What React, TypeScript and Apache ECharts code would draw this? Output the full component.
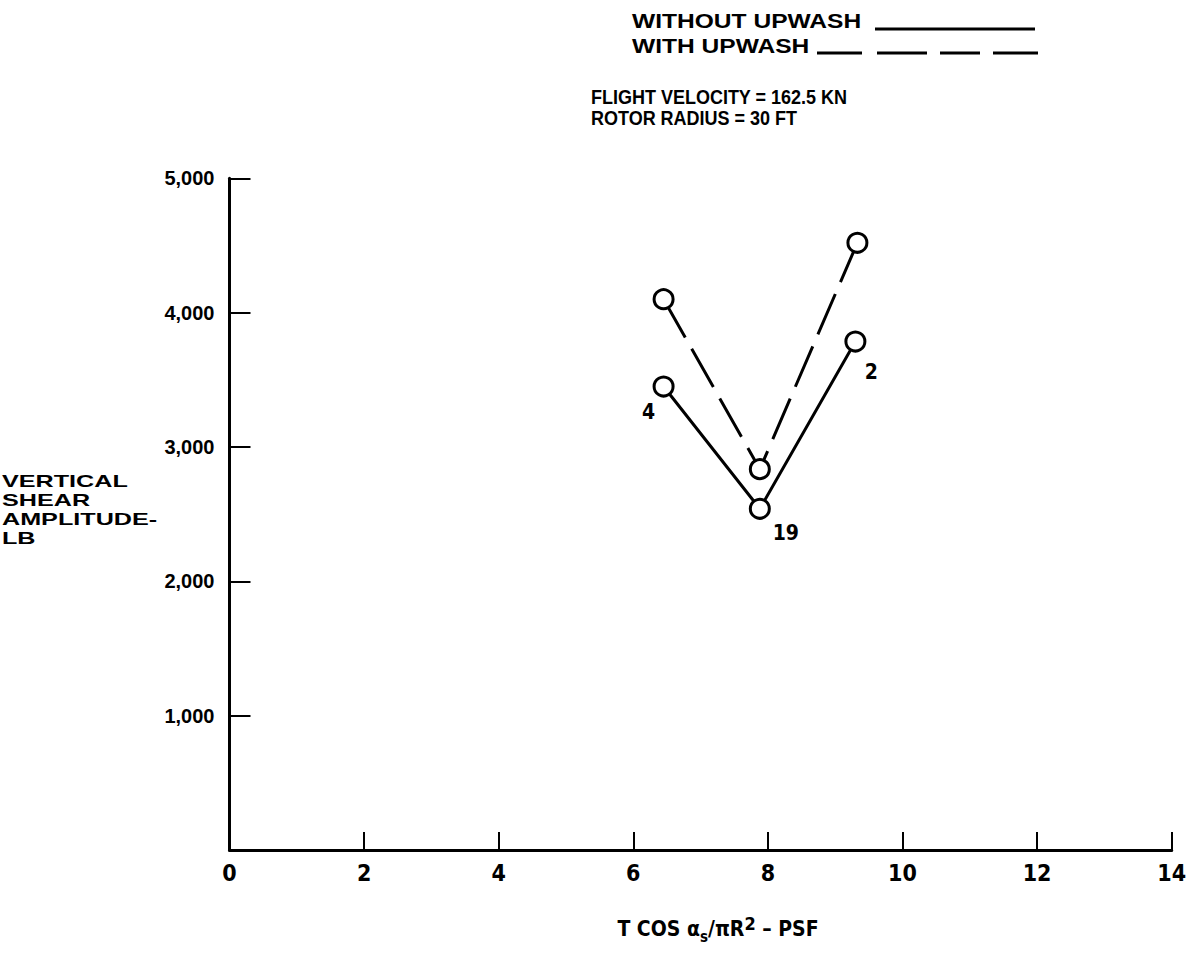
import React, { useEffect, useRef } from "react";
import * as echarts from "echarts";

// Data
const xWithout = [6.45, 7.88, 9.3];
const yWithout = [3450, 2540, 3785];
const xWith = [6.45, 7.88, 9.33];
const yWith = [4100, 2835, 4520];
const pointLabels = ["4", "19", "2"];
const labelOffsets = [
  [-15, 25],
  [26, 24],
  [16, 30],
];
const xTicks = { min: 0, max: 14, interval: 2 };
const yTicks = { min: 0, max: 5000, interval: 1000 };
const legendNames = ["WITHOUT UPWASH", "WITH UPWASH"];
const conditionLines = ["FLIGHT VELOCITY = 162.5 KN", "ROTOR RADIUS = 30 FT"];
const yAxisName = ["VERTICAL", "SHEAR", "AMPLITUDE-", "LB"];

const BOLD = "'Liberation Sans', Arial, Helvetica, sans-serif";
const NARROW = "'Liberation Sans Narrow', 'DejaVu Sans Condensed', 'Liberation Sans', sans-serif";

export default function App() {
  const ref = useRef<HTMLDivElement>(null);
  useEffect(() => {
    if (!ref.current) return;
    const chart = echarts.init(ref.current, undefined, { renderer: "svg" });
    const solidData = xWithout.map((x, i) => ({
      value: [x, yWithout[i]],
      label: {
        show: true,
        formatter: pointLabels[i],
        position: "inside",
        offset: labelOffsets[i],
        fontFamily: NARROW,
        fontWeight: "bold",
        fontSize: 21,
        color: "#000",
      },
    }));
    const dashedData = xWith.map((x, i) => [x, yWith[i]]);
    const textStyle = { fill: "#000", fontWeight: "bold", fontFamily: BOLD };
    chart.setOption({
      animation: false,
      backgroundColor: "#fff",
      grid: { left: 229.5, top: 178.3, right: 20.3, bottom: 105, containLabel: false },
      xAxis: {
        type: "value",
        min: xTicks.min,
        max: xTicks.max,
        interval: xTicks.interval,
        splitLine: { show: false },
        axisLine: { show: true, onZero: false, lineStyle: { color: "#000", width: 3 } },
        axisTick: { show: true, inside: true, length: 18, lineStyle: { color: "#000", width: 2 } },
        axisLabel: {
          show: true,
          margin: 11,
          color: "#000",
          fontSize: 23,
          fontWeight: "bold",
          fontFamily: NARROW,
        },
      },
      yAxis: {
        type: "value",
        min: yTicks.min,
        max: yTicks.max,
        interval: yTicks.interval,
        splitLine: { show: false },
        axisLine: { show: true, onZero: false, lineStyle: { color: "#000", width: 3 } },
        axisTick: { show: true, inside: true, length: 21, lineStyle: { color: "#000", width: 2 } },
        axisLabel: {
          show: true,
          showMinLabel: false,
          margin: 15,
          color: "#000",
          fontSize: 20,
          fontWeight: "bold",
          fontFamily: BOLD,
          formatter: (v: number) => v.toLocaleString("en-US"),
        },
      },
      series: [
        {
          name: legendNames[0],
          type: "line",
          data: solidData,
          symbol: "circle",
          symbolSize: 19,
          itemStyle: { color: "#fff", borderColor: "#000", borderWidth: 3 },
          lineStyle: { color: "#000", width: 3, type: "solid" },
          z: 3,
        },
        {
          name: legendNames[1],
          type: "line",
          data: dashedData,
          symbol: "circle",
          symbolSize: 19,
          itemStyle: { color: "#fff", borderColor: "#000", borderWidth: 3 },
          lineStyle: { color: "#000", width: 3, type: [44, 13] },
          label: { show: false },
          z: 2,
        },
      ],
      graphic: [
        {
          type: "text",
          x: 632,
          y: 21,
          scaleX: 1.17,
          style: { ...textStyle, text: legendNames[0], fontSize: 21, textVerticalAlign: "middle" },
        },
        {
          type: "text",
          x: 632,
          y: 46,
          scaleX: 1.17,
          style: { ...textStyle, text: legendNames[1], fontSize: 21, textVerticalAlign: "middle" },
        },
        { type: "line", shape: { x1: 875, y1: 29, x2: 1035, y2: 29 }, style: { stroke: "#000", lineWidth: 3 } },
        { type: "line", shape: { x1: 817, y1: 53, x2: 862, y2: 53 }, style: { stroke: "#000", lineWidth: 3 } },
        { type: "line", shape: { x1: 877, y1: 53, x2: 927, y2: 53 }, style: { stroke: "#000", lineWidth: 3 } },
        { type: "line", shape: { x1: 940, y1: 53, x2: 980, y2: 53 }, style: { stroke: "#000", lineWidth: 3 } },
        { type: "line", shape: { x1: 993, y1: 53, x2: 1038, y2: 53 }, style: { stroke: "#000", lineWidth: 3 } },
        {
          type: "text",
          x: 591,
          y: 97,
          scaleY: 1.1,
          style: { ...textStyle, text: conditionLines[0], fontSize: 18, textVerticalAlign: "middle" },
        },
        {
          type: "text",
          x: 591,
          y: 118,
          scaleY: 1.1,
          style: { ...textStyle, text: conditionLines[1], fontSize: 18, textVerticalAlign: "middle" },
        },
        {
          type: "text",
          x: 2,
          y: 472,
          scaleX: 1.48,
          style: {
            ...textStyle,
            text: yAxisName.join("\n"),
            fontSize: 17,
            lineHeight: 19,
            textVerticalAlign: "top",
          },
        },
        {
          type: "text",
          x: 718,
          y: 929,
          style: {
            text: "{a|T COS α}{sub|s}{a|/πR}{sup|2}{a| – PSF}",
            fill: "#000",
            textAlign: "center",
            textVerticalAlign: "middle",
            rich: {
              a: { fontSize: 21, fontWeight: "bold", fontFamily: NARROW, lineHeight: 30, fill: "#000" },
              sub: {
                fontSize: 15,
                fontWeight: "bold",
                fontFamily: NARROW,
                lineHeight: 30,
                verticalAlign: "bottom",
                fill: "#000",
              },
              sup: {
                fontSize: 18,
                fontWeight: "bold",
                fontFamily: NARROW,
                lineHeight: 30,
                verticalAlign: "top",
                fill: "#000",
              },
            },
          },
        },
      ],
    });
    return () => chart.dispose();
  }, []);
  return (
    <div
      ref={ref}
      style={{ position: "absolute", left: 0, top: 0, width: 1192, height: 955, background: "#fff" }}
    />
  );
}
